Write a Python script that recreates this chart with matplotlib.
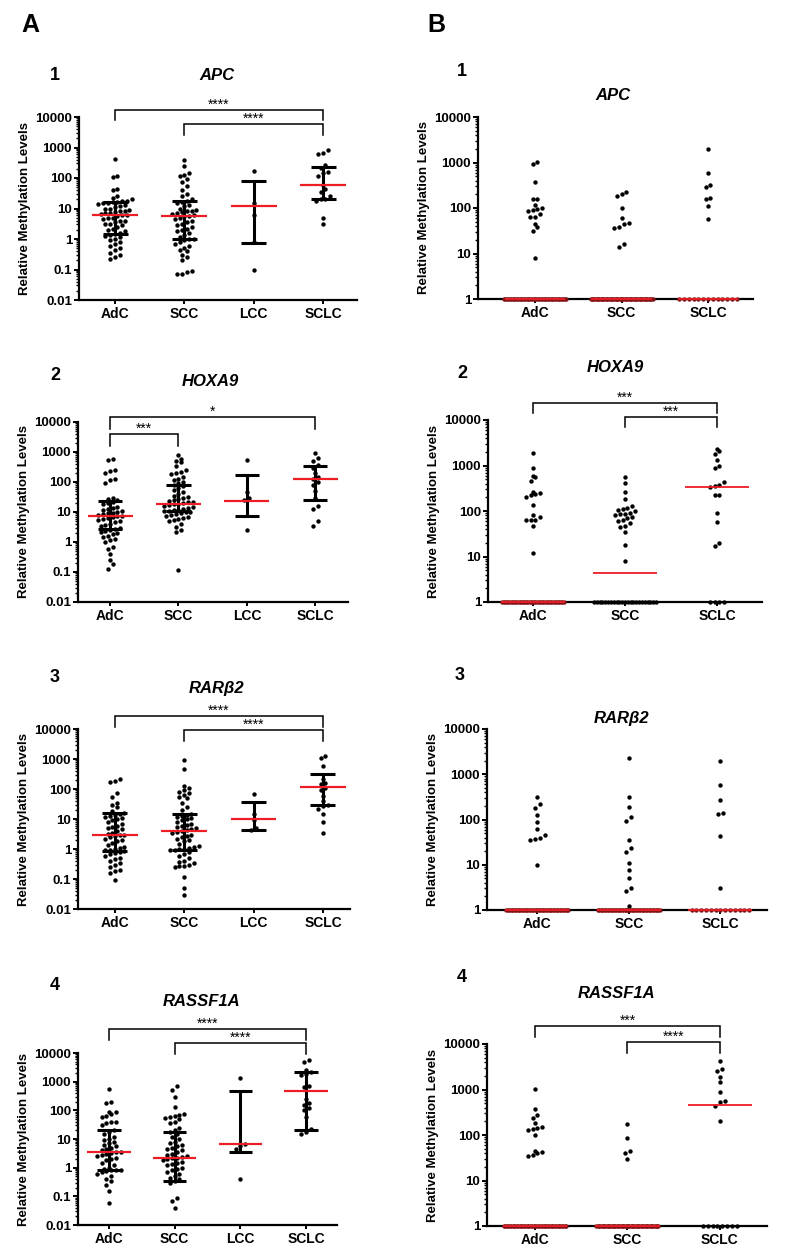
import numpy as np
import matplotlib
matplotlib.use('Agg')
import matplotlib.pyplot as plt
from matplotlib.ticker import LogLocator, NullFormatter, FuncFormatter, FixedLocator

plt.rcParams['font.family'] = ['Liberation Sans', 'DejaVu Sans']

# ---------------- data ----------------
groups_a = ['AdC', 'SCC', 'LCC', 'SCLC']
groups_b = ['AdC', 'SCC', 'SCLC']

# A1 APC
apc_a_adc = [420, 115, 110, 45, 40, 25, 22, 20, 18, 17, 16, 16, 15, 15, 14, 13, 12, 11, 10, 9.5,
             9, 8.5, 8, 7.5, 7, 7, 6.5, 6, 6, 5.5, 5, 5, 4.5, 4, 4, 3.5, 3, 3, 2.8, 2.5, 2.2, 2,
             1.8, 1.6, 1.5, 1.4, 1.3, 1.2, 1.0, 0.9, 0.8, 0.7, 0.6, 0.5, 0.45, 0.35, 0.3, 0.25, 0.22]
apc_a_scc = [400, 250, 150, 130, 120, 95, 75, 55, 40, 30, 25, 20, 18, 16, 15, 13, 12, 10, 9, 8.5,
             8, 7.5, 7, 6.5, 6, 5.5, 5.5, 5, 4.5, 4, 3.5, 3, 2.8, 2.5, 2.2, 2, 1.8, 1.6, 1.4, 1.2,
             1.0, 1.0, 0.9, 0.8, 0.7, 0.6, 0.5, 0.45, 0.4, 0.3, 0.25, 0.2, 0.09, 0.08, 0.07, 0.07]
apc_a_lcc = [170, 15, 6, 0.8, 0.1]
apc_a_sclc = [850, 650, 600, 260, 220, 160, 150, 120, 60, 45, 35, 25, 20, 20, 18, 5, 3]
apc_a_med = [6.2, 5.8, 11.7, 57]
apc_a_q1 = [1.44, 0.97, 0.76, 21]
apc_a_q3 = [16, 17.8, 81, 229]

# A2 HOXA9
hoxa9_a_adc = [600, 550, 260, 230, 200, 130, 120, 95, 30, 28, 25, 22, 20, 18, 15, 14, 13, 12, 11, 10,
               9.5, 9, 8.5, 8, 7.5, 7.4, 7, 6.5, 6, 5.5, 5, 4.5, 4, 3.8, 3.5, 3, 2.8, 2.6, 2.4, 2.2,
               2, 1.8, 1.6, 1.5, 1.3, 1.2, 1.0, 0.7, 0.6, 0.4, 0.25, 0.18, 0.13]
hoxa9_a_scc = [820, 600, 520, 450, 350, 260, 220, 200, 180, 150, 130, 120, 100, 90, 80, 75, 65, 55, 48,
               40, 35, 32, 30, 28, 26, 24, 22, 21, 20, 19, 18, 17, 16, 15, 14, 13, 12, 12, 11, 11, 10,
               10, 9, 8.5, 8, 7.5, 7, 6.5, 6, 5.5, 5, 4, 3.2, 2.5, 2.2, 0.12]
hoxa9_a_lcc = [550, 45, 30, 25, 2.6]
hoxa9_a_sclc = [950, 620, 520, 380, 300, 200, 150, 130, 100, 80, 50, 30, 16, 13, 5, 3.5]
hoxa9_a_med = [7.4, 19, 23, 123]
hoxa9_a_q1 = [2.65, 10.8, 7.5, 26]
hoxa9_a_q3 = [22.6, 78, 167, 350]

# A3 RARb2
rarb2_a_adc = [210, 190, 175, 75, 55, 35, 30, 25, 18, 16, 15, 14, 13, 12, 11, 10, 9, 8, 7, 6, 5.5, 5,
               4.5, 4, 3.5, 3.2, 3, 3, 2.8, 2.5, 2.2, 2, 1.8, 1.6, 1.4, 1.2, 1.1, 1.0, 0.95, 0.9, 0.85,
               0.8, 0.75, 0.7, 0.6, 0.5, 0.45, 0.4, 0.35, 0.3, 0.25, 0.2, 0.18, 0.16, 0.09]
rarb2_a_scc = [950, 450, 130, 110, 90, 80, 75, 65, 55, 50, 35, 25, 20, 15, 14, 13, 12, 11, 10, 9, 8, 7,
               6.5, 6, 5.5, 5, 4.5, 4.2, 4, 3.8, 3.5, 3, 2.8, 2.5, 2.2, 2, 1.8, 1.5, 1.3, 1.2, 1.1, 1.0,
               1.0, 0.95, 0.9, 0.8, 0.7, 0.6, 0.5, 0.4, 0.38, 0.35, 0.3, 0.28, 0.27, 0.26, 0.12, 0.05, 0.03]
rarb2_a_lcc = [70, 15, 9, 5, 4.2]
rarb2_a_sclc = [1300, 1100, 600, 220, 160, 150, 110, 90, 60, 40, 30, 28, 22, 15, 8, 3.5]
rarb2_a_med = [2.97, 4.1, 9.8, 120]
rarb2_a_q1 = [0.83, 0.94, 4.4, 29]
rarb2_a_q3 = [15.5, 14.5, 38, 316]

# A4 RASSF1A
rassf1a_a_adc = [550, 200, 180, 90, 85, 75, 65, 60, 40, 38, 35, 30, 20, 18, 15, 12, 10, 9, 8, 7, 6, 5.5,
                 5, 4.5, 4, 3.6, 3.4, 3.2, 3, 2.8, 2.5, 2.2, 2, 1.8, 1.5, 1.2, 1.0, 0.9, 0.85, 0.8, 0.8,
                 0.75, 0.7, 0.6, 0.5, 0.4, 0.35, 0.25, 0.15, 0.06]
rassf1a_a_scc = [700, 500, 300, 130, 75, 70, 65, 60, 55, 50, 40, 35, 25, 20, 18, 15, 12, 10, 8, 7, 6, 5.5,
                 5, 4.5, 4, 3.5, 3, 2.8, 2.5, 2.3, 2.2, 2.1, 2, 1.8, 1.6, 1.5, 1.3, 1.2, 1.0, 0.9, 0.8,
                 0.7, 0.6, 0.5, 0.45, 0.4, 0.35, 0.3, 0.09, 0.07, 0.04]
rassf1a_a_lcc = [1300, 6.5, 5.5, 4.5, 0.4]
rassf1a_a_sclc = [5500, 5000, 2500, 2100, 1900, 1700, 700, 650, 250, 180, 150, 120, 100, 60, 22, 18, 15]
rassf1a_a_med = [3.4, 2.25, 6.8, 460]
rassf1a_a_q1 = [0.84, 0.35, 3.6, 21]
rassf1a_a_q3 = [20, 17, 460, 2100]

# B panels: methylated values + number of unmethylated samples (plotted at 1)
apc_b_adc = [1050, 920, 370, 160, 160, 115, 100, 95, 90, 85, 75, 65, 65, 45, 38, 32, 8]
apc_b_scc = [230, 200, 185, 100, 60, 46, 44, 38, 37, 16, 14]
apc_b_sclc = [2000, 580, 320, 290, 165, 160, 110, 57]
apc_b_zero = [45, 50, 13]
apc_b_med = [1, 1, 1]

hoxa9_b_adc = [1900, 870, 580, 550, 450, 260, 250, 240, 220, 200, 135, 80, 72, 65, 63, 62, 47, 12]
hoxa9_b_scc = [550, 420, 260, 180, 130, 115, 110, 105, 100, 90, 88, 85, 80, 75, 70, 65, 60, 55, 48, 45,
               35, 18, 8]
hoxa9_b_sclc = [2300, 2100, 1750, 1350, 990, 860, 425, 370, 350, 340, 230, 220, 91, 58, 20, 17]
hoxa9_b_zero = [40, 23, 4]
hoxa9_b_med = [1, 4.4, 335]

rarb2_b_adc = [310, 220, 180, 125, 88, 62, 45, 40, 37, 36, 10]
rarb2_b_scc = [2250, 310, 185, 115, 93, 36, 23, 19, 11, 7.6, 5.2, 3.0, 2.6, 1.2]
rarb2_b_sclc = [1960, 580, 270, 141, 130, 43, 3.1]
rarb2_b_zero = [45, 45, 13]
rarb2_b_med = [1, 1, 1]

rassf1a_b_adc = [1050, 380, 280, 240, 185, 150, 140, 135, 130, 100, 45, 43, 40, 36, 34]
rassf1a_b_scc = [178, 88, 45, 40, 29]
rassf1a_b_sclc = [4300, 2800, 2600, 1870, 1450, 880, 550, 520, 440, 205]
rassf1a_b_zero = [45, 50, 8]
rassf1a_b_med = [1, 1, 446]

yticks_a = [0.01, 0.1, 1, 10, 100, 1000, 10000]
yticks_b = [1, 10, 100, 1000, 10000]

# ---------------- layout (pixels in the 785x1258 image) ----------------
W, H = 785, 1258
fig = plt.figure(figsize=(W / 100, H / 100), dpi=100)


def px_axes(x0, y0, x1, y1):
    return fig.add_axes([x0 / W, 1 - y1 / H, (x1 - x0) / W, (y1 - y0) / H])


def swarm_x(ax, xc, vals, d=4.8, maxw=50):
    # row based beeswarm (Prism style) computed in pixel space;
    # large runs of identical values get a row of their own
    vals = np.asarray(vals, float)
    py = ax.transData.transform(np.column_stack([np.full(len(vals), xc), vals]))[:, 1]
    uniq, counts = np.unique(vals, return_counts=True)
    tied = set(uniq[counts > 4])
    rows = [list(np.where(vals == u)[0]) for u in tied]
    rest = [i for i in np.argsort(py) if vals[i] not in tied]
    cur = []
    for idx in rest:
        if cur and py[idx] - py[cur[0]] >= d:
            rows.append(cur)
            cur = []
        cur.append(idx)
    if cur:
        rows.append(cur)
    off = np.zeros(len(vals))
    for row in rows:
        n = len(row)
        step = d if (n - 1) * d <= maxw else maxw / (n - 1)
        for k, idx in enumerate(row):
            off[idx] = (k - (n - 1) / 2) * step
    ppu = ax.transData.transform((1, 1))[0] - ax.transData.transform((0, 1))[0]
    return xc + off / ppu


def style_axes(ax, labels, yticks):
    ax.set_yscale('log')
    ax.set_ylim(yticks[0], yticks[-1])
    for s in ['top', 'right']:
        ax.spines[s].set_visible(False)
    for s in ['left', 'bottom']:
        ax.spines[s].set_linewidth(1.6)
    ax.yaxis.set_major_locator(FixedLocator(yticks))
    ax.yaxis.set_minor_locator(LogLocator(base=10, subs=np.arange(2, 10), numticks=20))
    ax.yaxis.set_minor_formatter(NullFormatter())
    ax.yaxis.set_major_formatter(FuncFormatter(lambda v, p: f'{v:g}'))
    ax.tick_params(axis='y', which='major', length=3.5, width=1.4, pad=1.5, labelsize=9.5)
    ax.tick_params(axis='y', which='minor', length=2.2, width=1.0)
    ax.tick_params(axis='x', length=3, width=1.4, pad=2, labelsize=10)
    ax.set_xticks(range(len(labels)))
    ax.set_xticklabels(labels, fontweight='bold')
    for t in ax.get_yticklabels():
        t.set_fontweight('bold')
    ax.set_ylabel('Relative Methylation Levels', fontsize=9.5, fontweight='bold', labelpad=3)


def bracket(ax, i, j, yf, drop, text):
    tr = ax.get_xaxis_transform()
    ax.plot([i, i, j, j], [yf - drop, yf, yf, yf - drop], transform=tr, color='black',
            lw=1.1, clip_on=False, solid_joinstyle='miter')
    ax.text((i + j) / 2, yf - 0.012, text, transform=tr, ha='center', va='bottom',
            fontsize=10, clip_on=False)


panels_a = [
    dict(title='APC', num='1', box=(79, 117, 357, 300), xlim=(-0.52, 3.49),
         data=[apc_a_adc, apc_a_scc, apc_a_lcc, apc_a_sclc],
         med=apc_a_med, q1=apc_a_q1, q3=apc_a_q3, tpos=(217, 75), npos=(55, 75),
         br=[(0, 3, 1.038, 0.055, '****'), (1, 3, 0.962, 0.06, '****')]),
    dict(title='HOXA9', num='2', box=(78, 422, 348, 602), xlim=(-0.47, 3.48),
         data=[hoxa9_a_adc, hoxa9_a_scc, hoxa9_a_lcc, hoxa9_a_sclc],
         med=hoxa9_a_med, q1=hoxa9_a_q1, q3=hoxa9_a_q3, tpos=(210, 382), npos=(55, 375),
         br=[(0, 3, 1.028, 0.067, '*'), (0, 1, 0.933, 0.067, '***')]),
    dict(title='RAR\u03b22', num='3', box=(78, 729, 350, 909), xlim=(-0.53, 3.39),
         data=[rarb2_a_adc, rarb2_a_scc, rarb2_a_lcc, rarb2_a_sclc],
         med=rarb2_a_med, q1=rarb2_a_q1, q3=rarb2_a_q3, tpos=(217, 688), npos=(55, 677),
         br=[(0, 3, 1.072, 0.06, '****'), (1, 3, 0.994, 0.06, '****')]),
    dict(title='RASSF1A', num='4', box=(78, 1053, 337, 1225), xlim=(-0.47, 3.47),
         data=[rassf1a_a_adc, rassf1a_a_scc, rassf1a_a_lcc, rassf1a_a_sclc],
         med=rassf1a_a_med, q1=rassf1a_a_q1, q3=rassf1a_a_q3, tpos=(202, 1002), npos=(55, 985),
         br=[(0, 3, 1.14, 0.064, '****'), (1, 3, 1.058, 0.064, '****')]),
]

panels_b = [
    dict(title='APC', num='1', box=(478, 117, 753, 299), xlim=(-0.66, 2.52),
         data=[apc_b_adc, apc_b_scc, apc_b_sclc], zero=apc_b_zero, med=apc_b_med,
         tpos=(613, 95), npos=(462, 72), br=[]),
    dict(title='HOXA9', num='2', box=(488, 420, 762, 602), xlim=(-0.49, 2.49),
         data=[hoxa9_b_adc, hoxa9_b_scc, hoxa9_b_sclc], zero=hoxa9_b_zero, med=hoxa9_b_med,
         tpos=(615, 368), npos=(462, 373),
         br=[(0, 2, 1.093, 0.055, '***'), (1, 2, 1.016, 0.055, '***')]),
    dict(title='RAR\u03b22', num='3', box=(487, 729, 767, 910), xlim=(-0.55, 2.51),
         data=[rarb2_b_adc, rarb2_b_scc, rarb2_b_sclc], zero=rarb2_b_zero, med=rarb2_b_med,
         tpos=(622, 718), npos=(460, 676), br=[]),
    dict(title='RASSF1A', num='4', box=(487, 1044, 767, 1226), xlim=(-0.52, 2.51),
         data=[rassf1a_b_adc, rassf1a_b_scc, rassf1a_b_sclc], zero=rassf1a_b_zero, med=rassf1a_b_med,
         tpos=(617, 993), npos=(462, 977),
         br=[(0, 2, 1.099, 0.06, '***'), (1, 2, 1.011, 0.06, '****')]),
]


def fig_text(pos, s, **kw):
    fig.text(pos[0] / W, 1 - pos[1] / H, s, ha='center', va='center', **kw)


fig_text((30, 25), 'A', fontsize=18, fontweight='bold')
fig_text((436, 25), 'B', fontsize=18, fontweight='bold')

RED = '#ee1c24'
MAROON = '#7e1416'

for p in panels_a:
    ax = px_axes(*p['box'])
    ax.set_xlim(*p['xlim'])
    style_axes(ax, groups_a, yticks_a)
    for i, vals in enumerate(p['data']):
        xs = swarm_x(ax, i, vals, maxw=50)
        ax.scatter(xs, vals, s=10, color='black', linewidths=0, zorder=2, clip_on=False)
        ax.vlines(i, p['q1'][i], p['q3'][i], color='black', lw=2.2, zorder=3)
        ax.hlines([p['q1'][i], p['q3'][i]], i - 0.18, i + 0.18, color='black', lw=2.2, zorder=3)
        ax.hlines(p['med'][i], i - 0.33, i + 0.33, color=RED, lw=1.6, zorder=4)
    for b in p['br']:
        bracket(ax, *b)
    fig_text(p['tpos'], p['title'], fontsize=12, fontweight='bold', fontstyle='italic')
    fig_text(p['npos'], p['num'], fontsize=13, fontweight='bold')

for p in panels_b:
    ax = px_axes(*p['box'])
    ax.set_xlim(*p['xlim'])
    style_axes(ax, groups_b, yticks_b)
    for i, vals in enumerate(p['data']):
        allv = np.array(list(vals) + [1] * p['zero'][i], float)
        xs = swarm_x(ax, i, allv, maxw=62)
        on_med = np.isclose(allv, p['med'][i])
        ax.scatter(xs[~on_med], allv[~on_med], s=10, color='black', linewidths=0, zorder=2, clip_on=False)
        # dots lying under the median line appear dark red in the original
        ax.scatter(xs[on_med], allv[on_med], s=10, color=MAROON, linewidths=0, zorder=3, clip_on=False)
        ax.hlines(p['med'][i], i - 0.35, i + 0.35, color=RED, lw=1.3, zorder=4, clip_on=False)
    for b in p['br']:
        bracket(ax, *b)
    fig_text(p['tpos'], p['title'], fontsize=12, fontweight='bold', fontstyle='italic')
    fig_text(p['npos'], p['num'], fontsize=13, fontweight='bold')

fig.savefig('out.png', dpi=100)
